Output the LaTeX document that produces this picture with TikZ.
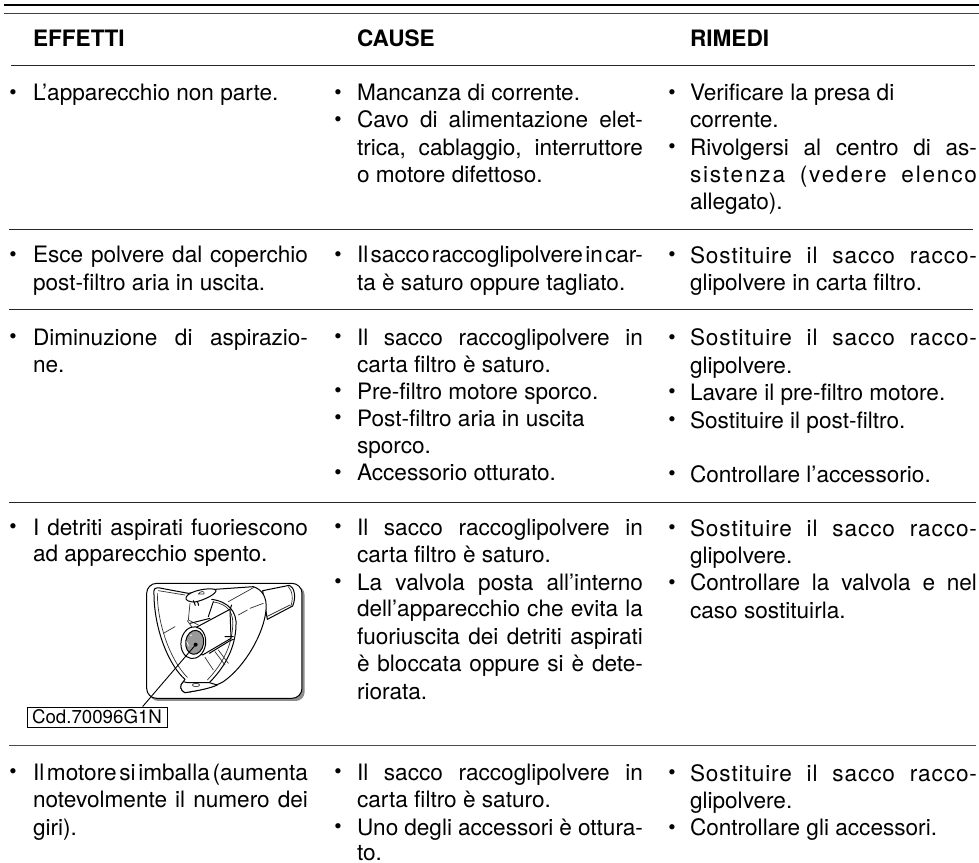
\documentclass[tikz,border=0pt]{standalone}
\usepackage{fontspec}
\setmainfont{TeX Gyre Heros}
\newcounter{tn}
\tikzset{
  rulelight/.style={line width=1pt,draw=black!85},
  txt/.style={anchor=base west,inner sep=0pt,outer sep=0pt,font=\fontsize{22.6}{27}\selectfont,text=black},
  hdr/.style={anchor=base west,inner sep=0pt,outer sep=0pt,font=\fontsize{22.6}{27}\selectfont\bfseries,text=black},
  bul/.style={anchor=base,inner sep=0pt,outer sep=0pt,font=\fontsize{21}{21}\selectfont,text=black},
  pline/.style={line width=1pt,draw=black,line join=round,line cap=round},
  pthin/.style={line width=.7pt,draw=black!80,line join=round,line cap=round},
}
% plain line of text
\newcommand{\tln}[3]{\stepcounter{tn}\node[txt] (t\thetn) at (#1,#2) {#3};}
% justified line of text: x, baseline, right edge, text
\newcommand{\jln}[4]{\stepcounter{tn}\pgfmathsetlengthmacro{\jw}{(#3-#1)*1pt}%
  \node[txt] (t\thetn) at (#1,#2) {\spaceskip=.278em plus 1fil minus .26em\relax\makebox[\jw][s]{#4}};}
% bullet: x, baseline of its line
\newcommand{\bln}[2]{\stepcounter{tn}\node[bul] (t\thetn) at (#1,#2-1.5) {•};}
\begin{document}
\begin{tikzpicture}[x=1pt,y=-1pt]
\useasboundingbox (0,0) rectangle (979,862);
% rules
\draw[line width=2pt,draw=black] (4,5) -- (979,5);
\draw[line width=1.4pt,draw=black!75] (4,13.5) -- (979,13.5);
\draw[rulelight] (11,65.5) -- (975,65.5);
\draw[rulelight] (9,229) -- (973,229);
\draw[rulelight] (9,309.3) -- (973,309.3);
\draw[rulelight] (9,502) -- (976,502);
\draw[rulelight,draw=black!70] (9,745.7) -- (976,745.7);
% headers
\node[hdr] (h1) at (33,46) {EFFETTI};
\node[hdr] (h2) at (357,46) {CAUSE};
\node[hdr] (h3) at (690,46) {RIMEDI};
% column 1
\bln{13}{100.7}\tln{33}{100.7}{L’apparecchio non parte.}
\bln{13}{262.7}\jln{33}{262.7}{308}{Esce polvere dal coperchio}
\tln{33}{290}{post-filtro aria in uscita.}
\bln{13}{345}\jln{33}{345}{308}{Diminuzione di aspirazio-}
\tln{33}{372.3}{ne.}
\bln{13}{535}\jln{33}{535}{308}{I detriti aspirati fuoriescono}
\tln{33}{561.7}{ad apparecchio spento.}
\bln{13}{780}\jln{33}{780}{308}{Il motore si imballa (aumenta}
\jln{33}{807}{308}{notevolmente il numero dei}
\tln{33}{835}{giri).}
% column 2
\bln{338}{100.7}\tln{357}{100.7}{Mancanza di corrente.}
\bln{338}{127.7}\jln{357}{127.7}{643}{Cavo di alimentazione elet-}
\jln{357}{155}{643}{trica, cablaggio, interruttore}
\tln{357}{182}{o motore difettoso.}
\bln{338}{262.7}\jln{357}{262.7}{643}{Il sacco raccoglipolvere in car-}
\tln{357}{290}{ta è saturo oppure tagliato.}
\bln{338}{345}\jln{357}{345}{643}{Il sacco raccoglipolvere in}
\tln{357}{372.3}{carta filtro è saturo.}
\bln{338}{399}\tln{357}{399}{Pre-filtro motore sporco.}
\bln{338}{426}\tln{357}{426}{Post-filtro aria in uscita}
\tln{357}{453.3}{sporco.}
\bln{338}{480.7}\tln{357}{480.7}{Accessorio otturato.}
\bln{338}{535}\jln{357}{535}{643}{Il sacco raccoglipolvere in}
\tln{357}{562}{carta filtro è saturo.}
\bln{338}{590}\jln{357}{590}{643}{La valvola posta all’interno}
\jln{357}{616.7}{643}{dell’apparecchio che evita la}
\jln{357}{644}{643}{fuoriuscita dei detriti aspirati}
\jln{357}{671}{643}{è bloccata oppure si è dete-}
\tln{357}{699}{riorata.}
\bln{338}{780}\jln{357}{780}{643}{Il sacco raccoglipolvere in}
\tln{357}{807}{carta filtro è saturo.}
\bln{338}{835}\jln{357}{835}{643}{Uno degli accessori è ottura-}
\tln{357}{860.5}{to.}
% column 3
\bln{672}{100.7}\tln{690}{100.7}{Verificare la presa di}
\tln{690}{127.7}{corrente.}
\bln{672}{155}\jln{690}{155}{977}{Rivolgersi al centro di as-}
\jln{690}{182}{977}{\addfontfeature{LetterSpace=8}sistenza (vedere elenco}
\tln{690}{209}{allegato).}
\bln{672}{263}\jln{690}{263}{977}{\addfontfeature{LetterSpace=4}Sostituire il sacco racco-}
\tln{690}{290.3}{glipolvere in carta filtro.}
\bln{672}{345.7}\jln{690}{345.7}{977}{\addfontfeature{LetterSpace=4}Sostituire il sacco racco-}
\tln{690}{373}{glipolvere.}
\bln{672}{400}\tln{690}{400}{Lavare il pre-filtro motore.}
\bln{672}{428}\tln{690}{428}{Sostituire il post-filtro.}
\bln{672}{482}\tln{690}{482}{Controllare l’accessorio.}
\bln{672}{536}\jln{690}{536}{977}{\addfontfeature{LetterSpace=4}Sostituire il sacco racco-}
\tln{690}{563}{glipolvere.}
\bln{672}{590.5}\jln{690}{590.5}{977}{Controllare la valvola e nel}
\tln{690}{618}{caso sostituirla.}
\bln{672}{781}\jln{690}{781}{977}{\addfontfeature{LetterSpace=4}Sostituire il sacco racco-}
\tln{690}{808}{glipolvere.}
\bln{672}{835.5}\tln{690}{835.5}{Controllare gli accessori.}
% illustration (coordinates in thirds of a pixel)
\begin{scope}[shift={(130,570)},x=.3333pt,y=-.3333pt]
  \fill[black!45,rounded corners=9pt] (58,48) -- (524,48) -- (524,393) -- (58,393) -- cycle;
  \draw[pline,fill=white,rounded corners=10pt] (50,40) -- (516,40) -- (516,385) -- (50,385) -- cycle;
  % tube to the right
  \draw[pline,fill=white] (398,62) -- (478,46) .. controls (492,50) and (500,80) .. (488,108) -- (412,148) -- cycle;
  \draw[pthin] (475,50) .. controls (488,62) and (490,90) .. (482,110);
  % outer hood
  \draw[pline,fill=white] (72,62) .. controls (72,52) and (85,52) .. (100,56) -- (175,70)
     -- (255,58) -- (370,50) .. controls (395,58) and (412,80) .. (408,120)
     .. controls (402,190) and (345,290) .. (280,335)
     .. controls (250,352) and (205,362) .. (165,368)
     .. controls (150,362) and (148,345) .. (160,335) -- (165,328)
     .. controls (120,290) and (70,180) .. (72,62) -- cycle;
  \draw[pthin] (82,70) .. controls (82,160) and (120,270) .. (172,322);
  \draw[pthin] (85,62) -- (165,75);
  % inner rim of the hood
  \draw[pline] (245,88) .. controls (295,95) and (322,125) .. (318,170)
     .. controls (315,230) and (290,285) .. (238,338) -- (170,340);
  \draw[pthin] (250,96) .. controls (295,102) and (312,130) .. (308,170)
     .. controls (305,225) and (280,280) .. (232,330);
  % hatch strokes
  \draw[pthin] (100,190) -- (135,170);
  \draw[pthin] (295,95) -- (372,52);
  \draw[pthin] (325,135) -- (352,120) (360,115) -- (400,100);
  \draw[pthin] (410,140) -- (480,105);
  % inner structure
  \draw[pthin] (180,100) -- (175,150) -- (205,165);
  \draw[pline] (250,95) -- (235,140) (180,160) -- (240,145);
  \draw[pthin] (172,152) -- (185,170);
  % tube
  \draw[pline,fill=white] (180,182) -- (300,118) -- (303,205) -- (218,255) -- (205,250) -- cycle;
  \draw[pline] (300,118) -- (305,105);
  \draw[pline] (238,250) -- (300,212) -- (310,208) (285,200) -- (310,200);
  \draw[pthin] (255,245) -- (285,285) (265,240) -- (295,280);
  \draw[pthin] (225,262) -- (250,300);
  % valve opening
  \draw[pline,fill=white,rotate around={-8:(190,218)}] (190,218) ellipse (37 and 48);
  \draw[pline,fill=black!40,rotate around={-8:(194,217)}] (194,217) ellipse (27 and 36);
  \fill[black] (197,224) circle (6);
  \fill[white] (183,196) circle (2.5);
  \draw[pthin,draw=white] (170,215) -- (176,228);
  % flange
  \draw[pline,fill=white] (160,335) .. controls (148,345) and (150,362) .. (165,368)
     .. controls (205,362) and (240,355) .. (262,345) -- (238,338) -- (172,338) -- cycle;
  \draw[pthin] (198,345) ellipse (11 and 5);
  % clip at the top
  \draw[pline,fill=white] (168,82) .. controls (175,62) and (245,50) .. (258,60)
     .. controls (262,70) and (225,90) .. (195,96) .. controls (180,96) and (165,92) .. (168,82) -- cycle;
  \draw[pthin] (205,72) .. controls (212,62) and (225,62) .. (222,72) -- (205,72);
  \draw[pline] (190,92) -- (196,106) (203,96) -- (206,106);
  \coordinate (valve) at (197,224);
\end{scope}
% part label and leader
\node[draw=black,line width=.8pt,inner sep=0pt,minimum width=140pt,minimum height=20pt,
      font=\fontsize{18.7}{20}\selectfont,text=black] (cod) at (97,717) {Cod.70096G1N};
\draw[line width=.9pt,draw=black] (valve) -- ([xshift=116pt]cod.north west);
\end{tikzpicture}
\end{document}
